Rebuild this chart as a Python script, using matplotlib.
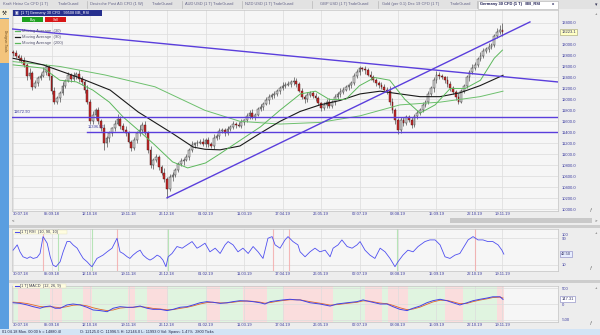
import matplotlib
matplotlib.use("Agg")
import matplotlib.pyplot as plt
import matplotlib.transforms as mtransforms
from matplotlib.patches import Rectangle

plt.rcParams['font.family'] = ['Liberation Sans', 'DejaVu Sans']

# ---------------- data (x = candle index, one candle per 2 trading days) ----------------
first_open = 12870
closes = [
    12840, 12790, 12760, 12700, 12620, 12420, 12490, 12230, 12300, 12390,
    12430, 12500, 12600, 12420, 12150, 11950, 12020, 12120, 12250, 12340,
    12450, 12380, 12430, 12470, 12380, 12310, 12180, 11950, 11600, 11720,
    11800, 11600, 11470, 11200, 11290, 11380, 11470, 11560, 11650, 11520,
    11450, 11380, 11230, 11120, 11260, 11380, 11450, 11540, 11380, 11080,
    10800, 10900, 10950, 10760, 10650, 10550, 10360, 10580, 10620, 10720,
    10820, 10870, 10900, 10950, 11080, 11170, 11200, 11210, 11230, 11190,
    11260, 11180, 11150, 11300, 11330, 11420, 11440, 11390, 11460, 11500,
    11560, 11540, 11520, 11580, 11620, 11700, 11760, 11680, 11720, 11820,
    11860, 11920, 11980, 12050, 12080, 12100, 12150, 12210, 12250, 12270,
    12290, 12310, 12330, 12280, 12160, 12050, 12000, 12080, 12110, 12060,
    12020, 11930, 11840, 11900, 11960, 11880, 11950, 12050, 12100, 12140,
    12180, 12220, 12260, 12300, 12420, 12500, 12570, 12560, 12530, 12450,
    12400, 12350, 12300, 12260, 12230, 12180, 12150, 11950, 11800, 11620,
    11450, 11620, 11570, 11680, 11620, 11530, 11700, 11760, 11810, 11900,
    11960, 12100, 12200, 12350, 12450, 12420, 12400, 12360, 12280, 12200,
    12130, 12050, 11960, 12150, 12250, 12400, 12500, 12580, 12630, 12740,
    12800, 12880, 12920, 12960, 13000, 13150, 13230, 13270, 13223,
]
wick_up = [
    40, 60, 30, 50, 70, 40, 80, 30, 50, 40,
    60, 90, 50, 30, 40, 70, 50, 40, 60, 30,
    50, 40, 70, 30, 60, 40, 50, 80, 60, 70,
    40, 60, 50, 90, 40, 50, 30, 60, 80, 40,
    50, 70, 40, 30, 60, 50, 80, 40, 60, 50,
    70, 40, 60, 30, 50, 90, 40, 60, 50, 30,
    40, 60, 30, 50, 40, 70, 30, 50, 40, 60,
    30, 50, 40, 60, 30, 50, 40, 30, 60, 40,
    50, 30, 40, 60, 30, 50, 40, 60, 30, 40,
    50, 30, 60, 40, 30, 50, 40, 30, 60, 40,
    50, 40, 70, 60, 40, 50, 30, 60, 40, 50,
    60, 40, 30, 50, 40, 60, 30, 50, 40, 60,
    40, 50, 30, 40, 60, 50, 40, 30, 50, 40,
    60, 50, 40, 30, 50, 60, 40, 90, 70, 50,
    40, 60, 50, 40, 30, 60, 40, 50, 40, 60,
    30, 50, 40, 60, 70, 50, 40, 30, 60, 50,
    40, 50, 60, 40, 30, 50, 40, 60, 50, 40,
    60, 50, 40, 60, 30, 50, 70, 80, 120,
]
wick_dn = [
    50, 30, 60, 40, 30, 70, 40, 60, 30, 50,
    40, 30, 60, 70, 50, 40, 30, 60, 40, 50,
    30, 60, 40, 50, 70, 40, 60, 30, 50, 40,
    80, 50, 40, 120, 60, 70, 40, 50, 30, 60,
    40, 50, 30, 60, 40, 50, 40, 60, 30, 50,
    60, 70, 40, 50, 30, 50, 150, 40, 70, 40,
    50, 40, 60, 30, 50, 40, 60, 50, 30, 40,
    60, 40, 30, 50, 40, 60, 30, 50, 40, 30,
    40, 60, 30, 50, 40, 30, 60, 40, 50, 30,
    40, 50, 30, 60, 40, 50, 30, 60, 40, 50,
    30, 60, 40, 50, 30, 40, 60, 50, 40, 30,
    50, 40, 60, 30, 50, 40, 30, 60, 40, 50,
    40, 30, 50, 60, 40, 30, 50, 40, 60, 30,
    50, 40, 60, 50, 40, 30, 60, 50, 40, 60,
    80, 60, 50, 40, 30, 50, 40, 60, 50, 40,
    30, 50, 40, 60, 50, 40, 30, 60, 50, 40,
    40, 60, 50, 30, 40, 50, 60, 40, 50, 30,
    40, 50, 30, 60, 40, 50, 30, 40, 60,
]

ma30_idx = [0, 11, 17, 23, 29, 35, 40, 45.5, 51.5, 58, 63.5, 70, 75, 82.5, 90, 97,
            104.5, 110, 115, 121, 126, 131.5, 137, 142.5, 148, 153.5, 159, 164.5, 170, 175, 178]
ma30 = [12630, 12570, 12350, 12320, 12170, 11950, 11680, 11440, 11170, 10860, 10750, 10840,
        11000, 11250, 11500, 11800, 12100, 12150, 12000, 12000, 12250, 12400, 12350, 12000,
        11750, 11900, 12200, 12200, 12350, 12750, 12900]
ma90_idx = [0, 10.9, 23.3, 35.3, 45.5, 57.8, 65.5, 69.8, 75.3, 82.5, 89.8, 97.1, 104.4,
            111.6, 118.9, 126.2, 133.5, 140.7, 148, 155.3, 162.5, 169.8, 178.2]
ma90 = [12750, 12630, 12410, 12170, 11770, 11385, 11130, 11090, 11080, 11150, 11380, 11600,
        11780, 11900, 11980, 12100, 12150, 12100, 12050, 12050, 12120, 12250, 12440]
ma200_idx = [0, 17.1, 33.5, 51.6, 69.8, 82.5, 97.1, 111.6, 126.2, 140.7, 155.3, 169.8, 178.2]
ma200 = [12690, 12600, 12445, 12230, 11800, 11600, 11550, 11580, 11700, 11900, 11950, 12050, 12150]

trend_down_idx = [-0.4, 198.2]
trend_down_val = [13285, 12318]
trend_up_idx = [56, 188]
trend_up_val = [10205, 13413]
hline_upper = 11672.90
hline_lower = 11396.52
hline_lower_start = 27
last_price = 13223.1

rsi_idx = [0, 1.5, 2.5, 3.6, 5.1, 6.2, 7.3, 8.7, 9.8, 10.9, 12.4, 13.5, 14.5, 15.6, 17.1, 18.2,
           19.6, 20.7, 21.8, 23.3, 24.4, 25.5, 26.9, 28, 28.7, 30.5, 31.6, 32.7, 34.2, 36, 37.8,
           38.9, 40, 41.5, 42.5, 43.6, 45.1, 46.2, 47.3, 48.7, 49.8, 50.9, 52.4, 53.5, 54.5,
           55.6, 56.4, 57.8, 59.6, 61.5, 63.3, 65.1, 66.9, 68, 69.8, 71.6, 73.5, 75.3, 77.1,
           78.2, 80, 81.8, 83.6, 85.5, 87.3, 89.1, 90.9, 92.7, 94.2, 95.3, 97.1, 98.9, 100,
           101.8, 103.6, 104.4, 106.2, 108, 109.8, 111.6, 113.5, 115.3, 116.4, 118.2, 119.6,
           121.5, 123.3, 125.1, 126.2, 128, 129.8, 131.6, 133.5, 135.3, 137.1, 138.9, 140,
           141.8, 143.6, 145.5, 147.3, 149.8, 151.6, 153.5, 155.3, 157.1, 158.9, 160.7, 162.5,
           164.4, 165.5, 167.3, 169.1, 170.9, 172.7, 174.5, 176.4, 177.8, 178.5]
rsi = [54, 70, 49, 34, 29, 34, 29, 32, 44, 95, 75, 34, 9, 4, 19, 49,
       80, 80, 70, 60, 44, 29, 19, 9, 4, 29, 34, 39, 49, 60, 90,
       49, 44, 34, 29, 39, 49, 54, 39, 29, 24, 29, 39, 34, 24,
       4, 34, 44, 65, 60, 70, 80, 60, 65, 75, 49, 60, 44, 70,
       80, 70, 49, 60, 44, 65, 49, 29, 90, 95, 70, 60, 85, 95,
       80, 70, 49, 34, 49, 60, 49, 54, 34, 60, 70, 85,
       65, 60, 70, 80, 54, 39, 29, 60, 49, 29, 4, 19,
       39, 54, 49, 65, 80, 85, 85, 70, 34, 29, 39, 44,
       70, 85, 95, 85, 85, 80, 80, 70, 54, 42]
rsi_red_marks = [10.9, 37.8, 94.5, 100.4, 168]
rsi_green_marks = [16.4, 28.7, 56.4, 139.6]
rsi_last = "42.50"

macd_idx = [0, 2.5, 5.1, 7.3, 9.8, 11.6, 13.5, 15.3, 17.1, 19.6, 21.8, 24.4, 26.9, 29.1, 31.6,
            34.2, 36.4, 38.9, 41.5, 43.6, 46.2, 48.7, 50.9, 53.5, 56, 58.2, 60.7, 63.3, 65.5,
            68, 70.5, 72.7, 75.3, 77.8, 80, 82.5, 85.1, 87.3, 89.8, 91.6, 93.5, 96, 98.2,
            100.7, 103.3, 104.4, 108, 111.6, 115.3, 117.8, 121.5, 125.1, 127.3, 129.8, 133.5,
            136, 138.2, 140.7, 143.3, 145.5, 148, 150.5, 152.7, 155.3, 157.8, 160, 162.5,
            165.1, 167.3, 169.8, 172.4, 174.5, 177.1, 178.2]
macd = [40, 20, -30, -85, -135, -85, -65, -135, -135, -30, 0, -30, -105, -190, -210,
        -245, -135, -85, -105, -105, -65, -135, -170, -170, -210, -170, -105, -85, -30,
        40, 75, 55, 20, 40, 75, 105, 95, 75, 40, 0, 75, 105, 130,
        150, 130, 130, 40, 0, -65, 0, 40, 75, 130, 75, 0,
        0, -85, -170, -210, -135, -65, 40, 105, 150, 105, 40, -30,
        40, 105, 150, 190, 230, 230, 147]
macd_signal = [60, 45, 15, -30, -80, -95, -85, -100, -120, -85, -40, -25, -60, -120, -170,
               -210, -190, -130, -110, -105, -85, -105, -140, -160, -185, -180, -140, -105, -60,
               0, 45, 55, 35, 35, 55, 85, 95, 85, 60, 25, 45, 85, 110,
               135, 135, 130, 75, 25, -35, -20, 20, 55, 100, 90, 30,
               10, -45, -120, -180, -160, -100, -10, 65, 120, 115, 70, 10,
               20, 75, 125, 165, 205, 220, 190]
macd_last = "147.31"
band_starts = [0, 1.8, 9.8, 13.5, 17.8, 25.5, 28.7, 41.8, 44.4, 48.7, 56.4, 70.5, 75.3, 83.6,
               92.4, 98.2, 116.4, 128, 134.2, 136.4, 143.6, 157.1, 163.6, 176]
band_kind = ['up', 'down', 'up', 'down', 'up', 'down', 'up', 'down', 'up', 'down', 'up', 'down',
             'up', 'down', 'up', 'down', 'up', 'down', 'up', 'down', 'up', 'down', 'up', 'down']
band_last_end = 178.5

date_ticks_idx = [0, 14, 28, 42, 56, 70, 84, 98, 112, 126, 140, 154, 168, 178]
date_labels = ["30.07.18", "05.09.18", "12.10.18", "19.11.18", "26.12.18", "01.02.19", "11.03.19",
               "17.04.19", "26.05.19", "02.07.19", "08.08.19", "15.09.19", "22.10.19", "19.11.19"]
price_ticks = [10000, 10200, 10400, 10600, 10800, 11000, 11200, 11400, 11600, 11800, 12000,
               12200, 12400, 12600, 12800, 13000, 13200, 13400]

ma_names = ["Moving Average  (30)", "Moving Average  (90)", "Moving Average  (200)"]
tabs = [("Kraft Heinz Co CFD (1 T)", "TradeGuard"), ("Deutsche Post AG CFD (1 W)", "TradeGuard"),
        ("AUD USD (1 T)", "TradeGuard"), ("NZD USD (1 T)", "TradeGuard"),
        ("GBP USD (1 T)", "TradeGuard"), ("Gold (per 0.1) Dec 19 CFD (1 T)", "TradeGuard")]
active_tab = "Germany 30 CFD (1 T)   BB_RSI"

# ---------------- layout ----------------
W, H = 600, 335
fig = plt.figure(figsize=(6, 3.35), dpi=100, facecolor='#EDEDED')


def rect_px(x0, y0, x1, y1):
    return [x0 / W, 1 - y1 / H, (x1 - x0) / W, (y1 - y0) / H]


bg = fig.add_axes([0, 0, 1, 1])
bg.set_xlim(0, W)
bg.set_ylim(H, 0)
bg.axis('off')
bg.set_zorder(-5)

# tab bar
bg.add_patch(Rectangle((0, 0), 600, 8.5, color='#E2E2E2', lw=0))
tab_x = [(3, 58, 87), (90, 152, 182), (185, 213, 242), (245, 273, 312), (320, 348, 378), (382, 450, 477)]
for (name, tg), (xa, xb, xs) in zip(tabs, tab_x):
    bg.text(xa, 4.3, name, fontsize=2.9, color='#66668A', va='center', ha='left')
    bg.text(xb, 4.3, tg, fontsize=2.9, color='#66668A', va='center', ha='left')
    bg.plot([xs, xs], [1, 8], color='#B8B8B8', lw=0.5)
bg.add_patch(Rectangle((478, 0.5), 80, 8, facecolor='white', edgecolor='#B0B0B0', lw=0.4))
bg.text(480, 4.3, active_tab, fontsize=2.9, color='#1A1A50', fontweight='bold', va='center', ha='left')
bg.text(552, 4.3, "x", fontsize=2.9, color='#1A1A50', fontweight='bold', va='center', ha='left')
bg.text(596, 4.3, "\u25be", fontsize=3.5, color='#333355', va='center', ha='center')

# left tool strip
bg.add_patch(Rectangle((0, 8.5), 9, 321, color='#5A9EE0', lw=0))
bg.add_patch(Rectangle((0, 9), 9, 9, color='#F5F0D8', lw=0))
bg.text(4.5, 13.5, "\u2692", fontsize=4, color='#222222', va='center', ha='center')
bg.add_patch(Rectangle((0, 19), 9, 44, color='#F3C47C', lw=0))
bg.text(4.5, 41, "Designer-Tools", fontsize=2.4, color='#6A4A20', rotation=270, va='center', ha='center')

# scroll row + separators
bg.text(12, 220.5, "<", fontsize=3, color='#333333', va='center', ha='left')
bg.add_patch(Rectangle((450, 218), 142, 5, color='#C9C9C9', lw=0))
bg.text(596, 220.5, ">", fontsize=3, color='#333333', va='center', ha='center')
bg.add_patch(Rectangle((9, 224.5), 591, 3, color='#CDCDCD', lw=0))
bg.add_patch(Rectangle((9, 279.5), 591, 3, color='#CDCDCD', lw=0))
for yy in (14, 233, 288):
    bg.text(596, yy, "+", fontsize=3, color='#444444', va='center', ha='center')
for yy in (210, 268, 323):
    bg.text(591, yy, "\u0192", fontsize=3, color='#444444', va='center', ha='center')

# status bar
bg.add_patch(Rectangle((0, 329), 600, 6, color='#D3E4F5', lw=0))
bg.text(2, 332.2, "01.04.18 Mon. 00:00 h = 14880.4l", fontsize=2.8, color='#222244', va='center', ha='left')
bg.text(80, 332.2, "O: 12125.0 C: 11996.5 H: 12146.0 L: 11993.0 Vol: Spann: 1.47%  2800 Ticks",
        fontsize=2.8, color='#222244', va='center', ha='left')

TICKC = '#3C3CA0'
GRIDC = '#DCDCDC'
LINEC = '#5A3EDC'


def style_axes(ax, ylim):
    ax.set_facecolor('#F6F6F6')
    ax.set_xlim(-0.4, 198.2)
    ax.set_ylim(*ylim)
    ax.set_xticks(date_ticks_idx)
    ax.set_xticklabels(date_labels)
    ax.yaxis.tick_right()
    ax.tick_params(axis='x', length=0, pad=1.0, labelsize=3, labelcolor=TICKC)
    ax.tick_params(axis='y', length=0, pad=2.9, labelsize=3, labelcolor=TICKC)
    for s in ax.spines.values():
        s.set_color('#C4C4C4')
        s.set_linewidth(0.5)
    ax.grid(True, color=GRIDC, lw=0.5)
    ax.set_axisbelow(True)
    ax.get_xticklabels()[0].set_ha('left')


# ---------------- main price chart ----------------
ax = fig.add_axes(rect_px(12, 10, 558, 211))
style_axes(ax, (9964, 13631))
ax.set_yticks(price_ticks)
ax.set_yticklabels(["" if v == 13200 else f"{v:.1f}" for v in price_ticks])

n = len(closes)
xs = list(range(n))
opens = [first_open] + closes[:-1]
highs = [max(o, c) + w for o, c, w in zip(opens, closes, wick_up)]
lows = [min(o, c) - w for o, c, w in zip(opens, closes, wick_dn)]
up = [c >= o for o, c in zip(opens, closes)]
ax.vlines(xs, lows, highs, color='#2A2A2A', lw=0.4, zorder=3)
bottoms = [min(o, c) for o, c in zip(opens, closes)]
heights = [max(abs(c - o), 10) for o, c in zip(opens, closes)]
ax.bar(xs, heights, bottom=bottoms, width=0.62,
       color=['#D8D8D8' if u else '#C42A2A' for u in up],
       edgecolor=['#202020' if u else '#501010' for u in up], linewidth=0.3, zorder=4)

ax.plot(ma200_idx, ma200, color='#6DC06D', lw=0.7, zorder=5)
ax.plot(ma90_idx, ma90, color='#1A1A1A', lw=0.8, zorder=5)
ax.plot(ma30_idx, ma30, color='#5CB85C', lw=0.7, zorder=5)

ax.plot(trend_down_idx, trend_down_val, color=LINEC, lw=1.0, zorder=6)
ax.plot(trend_up_idx, trend_up_val, color=LINEC, lw=1.0, zorder=6)
ax.plot([-0.4, 198.2], [hline_upper, hline_upper], color=LINEC, lw=1.0, zorder=6)
ax.plot([hline_lower_start, 198.2], [hline_lower, hline_lower], color=LINEC, lw=1.0, zorder=6)
ax.text(0.3, hline_upper + 55, f"{hline_upper:.2f}", fontsize=3, color=TICKC, va='bottom', ha='left', zorder=7)
ax.text(hline_lower_start + 0.3, hline_lower + 55, f"{hline_lower:.2f}", fontsize=3, color=TICKC,
        va='bottom', ha='left', zorder=7)

trans = mtransforms.blended_transform_factory(ax.transAxes, ax.transData)
ax.text(1.006, last_price, f"{last_price:.1f}", transform=trans, fontsize=3, color='#333366',
        va='center', ha='left', clip_on=False,
        bbox=dict(boxstyle='square,pad=0.25', fc='#FFFFC4', ec='#A0A070', lw=0.4))

# ---------------- RSI ----------------
ar = fig.add_axes(rect_px(12, 229, 558, 271))
style_axes(ar, (-9, 118))
ar.set_yticks([10, 90, 100])
ar.set_yticklabels(["10", "90", "100"])
ar.grid(False)
ar.grid(True, axis='x', color=GRIDC, lw=0.5)
for v in (10, 90):
    ar.axhline(v, color=GRIDC, lw=0.5, zorder=1)
for m in rsi_red_marks:
    ar.axvline(m, color='#F4A8A8', lw=0.8, alpha=0.8, zorder=1)
for m in rsi_green_marks:
    ar.axvline(m, color='#A8E0A8', lw=0.8, alpha=0.8, zorder=1)
ar.plot(rsi_idx, rsi, color='#4F4FF0', lw=0.6, zorder=4)
trans_r = mtransforms.blended_transform_factory(ar.transAxes, ar.transData)
ar.text(1.006, rsi[-1], rsi_last, transform=trans_r, fontsize=3, color='#333366', va='center',
        ha='left', clip_on=False, bbox=dict(boxstyle='square,pad=0.25', fc='#E8EEFF', ec='#8080C0', lw=0.4))

# ---------------- MACD ----------------
am = fig.add_axes(rect_px(12, 286, 558, 322))
style_axes(am, (-573, 573))
am.set_yticks([-500, 0, 500])
am.set_yticklabels(["-500", "0", "500"])
band_ends = band_starts[1:] + [band_last_end]
for s, e, k in zip(band_starts, band_ends, band_kind):
    am.axvspan(s, e, color='#E0F4E0' if k == 'up' else '#FADDDD', lw=0, zorder=0.5)
am.plot(macd_idx, macd_signal, color='#E0682A', lw=0.6, zorder=4)
am.plot(macd_idx, macd, color='#4343E6', lw=0.7, zorder=5)
trans_m = mtransforms.blended_transform_factory(am.transAxes, am.transData)
am.text(1.006, macd[-1], macd_last, transform=trans_m, fontsize=3, color='#333366', va='center',
        ha='left', clip_on=False, bbox=dict(boxstyle='square,pad=0.25', fc='#FFFFFF', ec='#8080C0', lw=0.4))

# ---------------- overlay labels ----------------
fg = fig.add_axes([0, 0, 1, 1])
fg.set_xlim(0, W)
fg.set_ylim(H, 0)
fg.axis('off')
fg.set_zorder(10)
fg.patch.set_alpha(0)

fg.add_patch(Rectangle((13, 10), 89, 6, color='#27308E', lw=0))
fg.text(15, 13.1, "\u25a3  [1 T] Germany 30 CFD   99508 BB_RSI", fontsize=2.8, color='white', va='center', ha='left')
fg.add_patch(Rectangle((22, 17), 21, 5, color='#1FA11F', lw=0))
fg.text(32.5, 19.6, "Buy", fontsize=2.6, color='white', va='center', ha='center')
fg.add_patch(Rectangle((45, 17), 21, 5, color='#D81515', lw=0))
fg.text(55.5, 19.6, "Sell", fontsize=2.6, color='white', va='center', ha='center')
for yy, col, name in zip((31, 37, 43), ('#5CB85C', '#1A1A1A', '#5CB85C'), ma_names):
    fg.plot([15, 20], [yy, yy], color=col, lw=0.9)
    fg.text(22, yy, name, fontsize=3, color='#555570', va='center', ha='left')

fg.add_patch(Rectangle((13, 229.5), 54, 4.6, facecolor='#FFFDE0', edgecolor='#E0E0C0', lw=0.3))
fg.plot([14.5, 19], [231.8, 231.8], color='#4F4FF0', lw=0.8)
fg.text(20, 231.9, "[1 T] RSI  (10, 90, 10)", fontsize=2.8, color='#333355', va='center', ha='left')
fg.add_patch(Rectangle((13, 283.5), 53, 4.6, facecolor='#FFFDE0', edgecolor='#E0E0C0', lw=0.3))
fg.plot([14.5, 19], [285.8, 285.8], color='#4343E6', lw=0.8)
fg.text(20, 285.9, "[1 T] MACD  (12, 26, 9)", fontsize=2.8, color='#333355', va='center', ha='left')

fig.savefig("out.png", dpi=100, facecolor=fig.get_facecolor())
